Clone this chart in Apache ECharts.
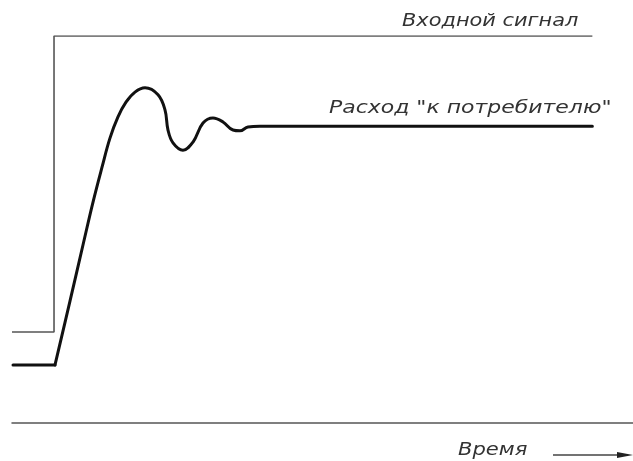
<!DOCTYPE html>
<html>
<head>
<meta charset="utf-8">
<script src="https://cdn.jsdelivr.net/npm/echarts@6/dist/echarts.min.js"></script>
<style>
  html, body { margin: 0; padding: 0; background: #fff; }
  #chart { width: 633px; height: 461px; }
</style>
</head>
<body>
<div id="chart"></div>
<script>
  // time axis 0..107, level axis 0..100
  const inputTime = [0, 7.24, 7.24, 100];
  const inputLevel = [23.5, 23.5, 100, 100];

  const flowTime = [0.17, 7.41, 9.99, 12.23, 13.96, 15.51, 16.88, 18.26, 19.64, 21.19, 22.92, 25.16, 26.36, 26.88, 27.74, 29.46, 31.19, 32.91, 34.63, 36.35, 38.08, 39.28, 40.66, 42.73, 100];
  const flowLevel = [15.0, 15.0, 31.5, 46.0, 57.1, 66.1, 73.6, 79.1, 82.9, 85.5, 86.6, 84.8, 80.9, 75.7, 72.4, 70.5, 72.6, 77.5, 78.8, 77.8, 75.7, 75.5, 76.5, 76.7, 76.7];

  const labelInput = 'Входной сигнал';
  const labelFlow = 'Расход "к потребителю"';
  const labelTime = 'Время';

  const zip = (xs, ys) => xs.map((x, i) => [x, ys[i]]);
  const font = 'italic 18px "DejaVu Sans", sans-serif';

  const flowData = zip(flowTime, flowLevel);
  const chart = echarts.init(document.getElementById('chart'));

  const textEl = (text, x, y, sx) => ({
    type: 'text',
    x, y,
    scaleX: sx,
    style: { text, font, fill: '#333', textVerticalAlign: 'middle' }
  });

  chart.setOption({
    animation: false,
    backgroundColor: '#fff',
    grid: { left: 12, right: 0, top: 36, bottom: 38 },
    xAxis: {
      type: 'value',
      min: 0,
      max: 107,
      axisLine: { show: true, lineStyle: { color: '#555', width: 1.5 } },
      axisTick: { show: false },
      axisLabel: { show: false },
      splitLine: { show: false }
    },
    yAxis: {
      type: 'value',
      min: 0,
      max: 100,
      axisLine: { show: false },
      axisTick: { show: false },
      axisLabel: { show: false },
      splitLine: { show: false }
    },
    series: [
      {
        name: labelInput,
        type: 'line',
        data: zip(inputTime, inputLevel),
        showSymbol: false,
        lineStyle: { color: '#555', width: 1.6 }
      },
      {
        // flat start up to the sharp corner
        name: labelFlow,
        type: 'line',
        data: flowData.slice(0, 2),
        showSymbol: false,
        lineStyle: { color: '#111', width: 3, cap: 'round' }
      },
      {
        name: labelFlow,
        type: 'line',
        data: flowData.slice(1),
        smooth: 0.4,
        showSymbol: false,
        lineStyle: { color: '#111', width: 3, cap: 'round', join: 'round' }
      }
    ],
    graphic: [
      textEl(labelInput, 402, 21, 1.16),
      textEl(labelFlow, 329, 108, 1.22),
      textEl(labelTime, 458, 450, 1.17),
      {
        type: 'line',
        shape: { x1: 553, y1: 455, x2: 628, y2: 455 },
        style: { stroke: '#444', lineWidth: 1.5 }
      },
      {
        type: 'polygon',
        shape: { points: [[617, 452], [633, 455], [617, 458]] },
        style: { fill: '#222' }
      }
    ]
  });
</script>
</body>
</html>
